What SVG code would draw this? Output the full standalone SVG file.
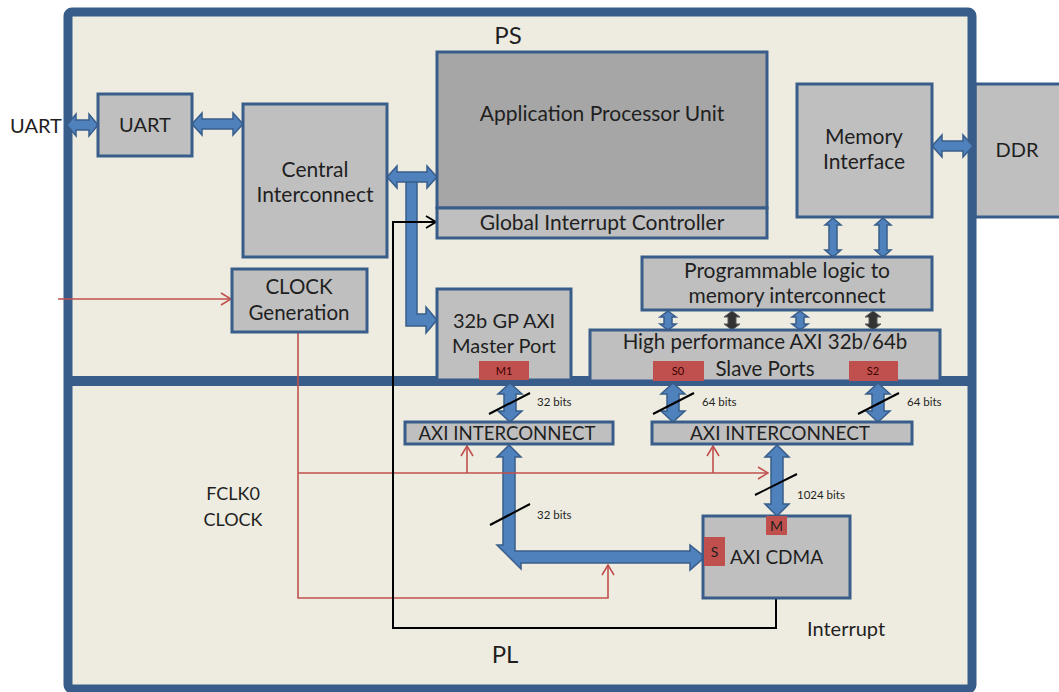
<svg xmlns="http://www.w3.org/2000/svg" xmlns:xlink="http://www.w3.org/1999/xlink" width="1059" height="692" viewBox="0 0 1059 692">
<style>
text{font-family:Lato,"Liberation Sans",sans-serif;fill:#1f1f1f;text-anchor:middle}
.box{fill:#bfbfbf;stroke:#385d8a;stroke-width:3}
.apu{fill:#a6a6a6;stroke:#385d8a;stroke-width:3}
.port{fill:#c0504d}
.bus{fill:#4f81bd;stroke:#385d8a;stroke-width:1.5}
.dark{fill:#333333;stroke:#595959;stroke-width:1}
.red{fill:none;stroke:#c0504d;stroke-width:1.6}
.blk{fill:none;stroke:#000;stroke-width:2}
.slash{stroke:#000;stroke-width:2}
.t20{font-size:20px}
.t21{font-size:21px}
.t19{font-size:19px}
.t18{font-size:18px}
.bits{font-size:11.5px;text-anchor:start}
.ptxt{font-size:11px;fill:#3a0000}
</style>
<defs>
<marker id="ra" markerWidth="12" markerHeight="14" refX="11" refY="7" orient="auto" markerUnits="userSpaceOnUse">
<path d="M1,1 L11,7 L1,13" fill="none" stroke="#c0504d" stroke-width="1.6"/>
</marker>
<marker id="ba" markerWidth="12" markerHeight="14" refX="11" refY="7" orient="auto" markerUnits="userSpaceOnUse">
<path d="M1,1 L11,7 L1,13" fill="none" stroke="#000" stroke-width="1.8"/>
</marker>
<path id="vsmall" d="M0,0 L8,6 L4,6 L4,13 L8,13 L0,19 L-8,13 L-4,13 L-4,6 L-8,6 Z"/>
<path id="vmem" d="M0,0 L8,7 L4,7 L4,32 L8,32 L0,39 L-8,32 L-4,32 L-4,7 L-8,7 Z"/>
<path id="vport" d="M0,0 L12,11 L6,11 L6,28 L12,28 L0,39 L-12,28 L-6,28 L-6,11 L-12,11 Z"/>
</defs>

<rect width="1059" height="692" fill="#ffffff"/>

<g id="ddr">
<rect x="975" y="84" width="90" height="133" class="box"/>
<text x="1017" y="157" class="t20">DDR</text>
</g>

<g id="frame">
<rect x="68" y="12" width="904" height="677" rx="4" fill="#eeece1" stroke="#385d8a" stroke-width="9"/>
<line x1="68" y1="381" x2="972" y2="381" stroke="#385d8a" stroke-width="10"/>
<text x="508" y="44" style="font-size:24px">PS</text>
<text x="505" y="663" style="font-size:24px">PL</text>
</g>

<g id="connectors">
<path class="bus" d="M67,125 L76,114 L76,120 L89,120 L89,114 L98,125 L89,136 L89,130 L76,130 L76,136 Z"/>
<path class="bus" d="M192,124 L202,113 L202,119 L233,119 L233,113 L243,124 L233,135 L233,129 L202,129 L202,135 Z"/>
<path class="bus" d="M406,177 L417,177 L417,314 L426,314 L426,307 L437,320 L426,333 L426,326 L406,326 Z"/>
<path class="bus" d="M387,177 L397,166 L397,172 L427,172 L427,166 L437,177 L427,188 L427,182 L397,182 L397,188 Z"/>
<path class="bus" d="M932,146 L942,135 L942,141 L963,141 L963,135 L973,146 L963,157 L963,151 L942,151 L942,157 Z"/>
<use xlink:href="#vmem" x="833" y="218" class="bus"/>
<use xlink:href="#vmem" x="883" y="218" class="bus"/>
<use xlink:href="#vsmall" x="668" y="311" class="bus"/>
<use xlink:href="#vsmall" x="732" y="311" class="dark"/>
<use xlink:href="#vsmall" x="800" y="311" class="bus"/>
<use xlink:href="#vsmall" x="873" y="311" class="dark"/>
<use xlink:href="#vport" x="510" y="383" class="bus"/>
<use xlink:href="#vport" x="673" y="383" class="bus"/>
<use xlink:href="#vport" x="878" y="383" class="bus"/>
<path class="bus" d="M777,445 L789,457 L783,457 L783,504 L789,504 L777,516 L765,504 L771,504 L771,457 L765,457 Z"/>
<path class="bus" d="M509,445 L521,457 L515,457 L515,551 L690,551 L690,545 L705,557 L690,570 L690,563 L521,563 L521,569 L497,545 L503,545 L503,457 L497,457 Z"/>
<line class="slash" x1="489" y1="414" x2="530" y2="393"/>
<line class="slash" x1="653" y1="414" x2="694" y2="393"/>
<line class="slash" x1="858" y1="414" x2="899" y2="393"/>
<line class="slash" x1="755" y1="495" x2="797" y2="474"/>
<line class="slash" x1="490" y1="525" x2="530" y2="504"/>
<text class="bits" x="537" y="406">32 bits</text>
<text class="bits" x="702" y="406">64 bits</text>
<text class="bits" x="907" y="406">64 bits</text>
<text class="bits" x="797" y="499">1024 bits</text>
<text class="bits" x="537" y="519">32 bits</text>
<path class="red" d="M58,299 L231,299" marker-end="url(#ra)"/>
<path class="red" d="M298,332 L298,598 L608,598 L608,565" marker-end="url(#ra)"/>
<path class="red" d="M298,473 L768,473" marker-end="url(#ra)"/>
<path class="red" d="M467,473 L467,446" marker-end="url(#ra)"/>
<path class="red" d="M713,473 L713,446" marker-end="url(#ra)"/>
<path class="blk" d="M776,598 L776,628 L393,628 L393,222 L436,222" marker-end="url(#ba)"/>
</g>

<g id="uart">
<rect x="98" y="94" width="94" height="62" class="box"/>
<text x="145" y="132" class="t20">UART</text>
</g>
<text x="36" y="133" class="t20">UART</text>

<g id="central-interconnect">
<rect x="243" y="104" width="144" height="153" class="box"/>
<text x="315" y="177" class="t21">Central</text>
<text x="315" y="202" class="t21">Interconnect</text>
</g>

<g id="apu">
<rect x="437" y="52" width="330" height="156" class="apu"/>
<text x="602" y="121" class="t21">Application Processor Unit</text>
</g>

<g id="gic">
<rect x="437" y="208" width="330" height="30" class="box"/>
<text x="602" y="230" class="t21">Global Interrupt Controller</text>
</g>

<g id="memory-interface">
<rect x="797" y="84" width="135" height="133" class="box"/>
<text x="864" y="144" class="t21">Memory</text>
<text x="864" y="169" class="t21">Interface</text>
</g>

<g id="clock-generation">
<rect x="232" y="269" width="135" height="63" class="box"/>
<text x="299" y="294" style="font-size:20.5px">CLOCK</text>
<text x="299" y="320" style="font-size:20.5px">Generation</text>
</g>

<g id="pl-mem-interconnect">
<rect x="642" y="257" width="290" height="53" class="box"/>
<text x="787" y="278" class="t21">Programmable logic to</text>
<text x="787" y="303" class="t21">memory interconnect</text>
</g>

<g id="gp-axi-master">
<rect x="437" y="289" width="134" height="91" class="box"/>
<text x="504" y="328" class="t20">32b GP AXI</text>
<text x="504" y="353" class="t20">Master Port</text>
<rect x="479" y="361" width="50" height="19" class="port"/>
<text x="504" y="375" class="ptxt">M1</text>
</g>

<g id="hp-slave-ports">
<rect x="590" y="330" width="350" height="51" class="box"/>
<text x="765" y="349" style="font-size:20.5px">High performance AXI 32b/64b</text>
<text x="765" y="376" style="font-size:20.5px">Slave Ports</text>
<rect x="653" y="361" width="51" height="20" class="port"/>
<text x="678" y="375" class="ptxt">S0</text>
<rect x="849" y="361" width="49" height="20" class="port"/>
<text x="873" y="375" class="ptxt">S2</text>
</g>

<g id="axi-interconnect-1">
<rect x="405" y="422" width="208" height="22" class="box"/>
<text x="507" y="440" class="t19" textLength="177" lengthAdjust="spacingAndGlyphs">AXI INTERCONNECT</text>
</g>

<g id="axi-interconnect-2">
<rect x="652" y="422" width="260" height="22" class="box"/>
<text x="780" y="440" class="t19" textLength="180" lengthAdjust="spacingAndGlyphs">AXI INTERCONNECT</text>
</g>

<g id="axi-cdma">
<rect x="703" y="516" width="147" height="82" class="box"/>
<rect x="766" y="516" width="21" height="19" class="port"/>
<text x="776.5" y="531" style="font-size:14px">M</text>
<rect x="704" y="537" width="21" height="29" class="port"/>
<text x="714.5" y="557" style="font-size:14px">S</text>
<text x="730" y="564" class="t19" style="text-anchor:start">AXI CDMA</text>
</g>

<text x="233" y="500" class="t18">FCLK0</text>
<text x="233" y="526" class="t18">CLOCK</text>
<text x="807" y="636" style="font-size:20px;text-anchor:start">Interrupt</text>
</svg>
